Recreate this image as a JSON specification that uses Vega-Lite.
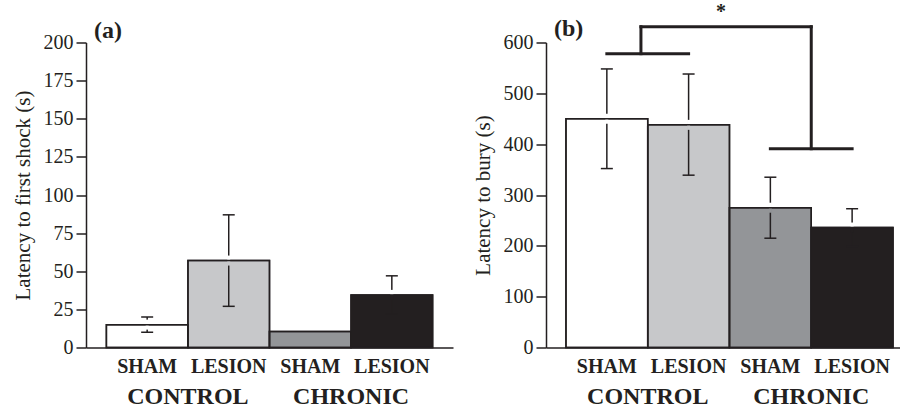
{
  "$schema": "https://vega.github.io/schema/vega-lite/v6.json",
  "background": "white",
  "padding": {"left": 12, "top": 1.5, "right": 0, "bottom": 0},
  "spacing": 19,
  "config": {
    "view": {"stroke": null},
    "font": "Liberation Serif",
    "axis": {"domainColor": "#231f20", "domainWidth": 1.5, "tickColor": "#231f20", "tickWidth": 1.5, "labelColor": "#231f20", "titleColor": "#231f20", "labelFont": "Liberation Serif", "titleFont": "Liberation Serif", "grid": false, "labelOverlap": false}
  },
  "hconcat": [
    {
      "width": 367,
      "height": 305,
      "title": {"text": "(a)", "anchor": "start", "frame": "group", "dx": 8, "fontSize": 24, "fontWeight": "bold", "font": "Liberation Serif", "color": "#231f20", "offset": -10},
      "data": {"values": [
        {"bar": "CONTROL-SHAM", "mean": 15, "lo": 10, "hi": 20},
        {"bar": "CONTROL-LESION", "mean": 57, "lo": 27, "hi": 87},
        {"bar": "CHRONIC-SHAM", "mean": 10.5},
        {"bar": "CHRONIC-LESION", "mean": 34.5, "lo": 22, "hi": 47}
      ]},
      "encoding": {
        "x": {"field": "bar", "type": "nominal",
          "scale": {"domain": ["CONTROL-SHAM", "CONTROL-LESION", "CHRONIC-SHAM", "CHRONIC-LESION"], "paddingInner": 0, "paddingOuter": 0.25},
          "axis": {"title": null, "ticks": false, "tickSize": 0, "labelAngle": 0, "labelFontSize": 20, "labelFontWeight": "bold", "labelPadding": 9, "labelExpr": "split(datum.label, '-')[1]"}}
      },
      "layer": [
        {"mark": {"type": "bar", "stroke": "#231f20", "strokeWidth": 1.5},
          "encoding": {
            "y": {"field": "mean", "type": "quantitative", "scale": {"domain": [0, 200], "nice": false},
              "axis": {"title": "Latency to first shock (s)", "values": [0, 25, 50, 75, 100, 125, 150, 175, 200], "tickCount": 12, "labelOverlap": false, "tickSize": 10, "labelPadding": 3, "labelFontSize": 20, "titleFontSize": 21, "titleFontWeight": "normal", "titlePadding": 10}},
            "fill": {"field": "bar", "type": "nominal", "scale": {"domain": ["CONTROL-SHAM", "CONTROL-LESION", "CHRONIC-SHAM", "CHRONIC-LESION"], "range": ["#ffffff", "#c7c8ca", "#939598", "#231f20"]}, "legend": null}
          }},
        {"transform": [{"filter": "isValid(datum.hi)"}],
          "mark": {"type": "rule", "stroke": "#231f20", "strokeWidth": 1.5},
          "encoding": {"y": {"field": "lo", "type": "quantitative", "axis": {"title": "Latency to first shock (s)", "values": [0, 25, 50, 75, 100, 125, 150, 175, 200], "tickCount": 12, "labelOverlap": false}}, "y2": {"field": "hi"}}},
        {"transform": [{"filter": "isValid(datum.hi)"}],
          "mark": {"type": "tick", "orient": "horizontal", "size": 12, "thickness": 1.5, "color": "#231f20", "opacity": 1},
          "encoding": {"y": {"field": "hi", "type": "quantitative", "axis": {"title": "Latency to first shock (s)", "values": [0, 25, 50, 75, 100, 125, 150, 175, 200], "tickCount": 12, "labelOverlap": false}}}},
        {"transform": [{"filter": "isValid(datum.hi)"}],
          "mark": {"type": "tick", "orient": "horizontal", "size": 12, "thickness": 1.5, "color": "#231f20", "opacity": 1},
          "encoding": {"y": {"field": "lo", "type": "quantitative", "axis": {"title": "Latency to first shock (s)", "values": [0, 25, 50, 75, 100, 125, 150, 175, 200], "tickCount": 12, "labelOverlap": false}}}},
        {"transform": [{"filter": "isValid(datum.hi)"}],
          "mark": {"type": "point", "shape": "M0,-1L0,0", "size": 100, "stroke": "white", "strokeWidth": 3, "filled": false, "opacity": 1},
          "encoding": {"y": {"field": "mean", "type": "quantitative"}}},
        {"transform": [{"filter": "isValid(datum.hi)"}],
          "mark": {"type": "point", "shape": "M0,0L0,1", "size": 100, "strokeWidth": 3, "filled": false, "opacity": 1},
          "encoding": {"y": {"field": "mean", "type": "quantitative"},
            "stroke": {"field": "bar", "type": "nominal", "scale": {"domain": ["CONTROL-SHAM", "CONTROL-LESION", "CHRONIC-SHAM", "CHRONIC-LESION"], "range": ["#ffffff", "#c7c8ca", "#939598", "#231f20"]}, "legend": null}}},
        {"mark": {"type": "bar", "fillOpacity": 0, "stroke": "#231f20", "strokeWidth": 1.5},
          "encoding": {"y": {"field": "mean", "type": "quantitative"}}},
        {"data": {"values": [{"bar": "CONTROL-LESION", "group": "CONTROL"}, {"bar": "CHRONIC-LESION", "group": "CHRONIC"}]},
          "mark": {"type": "text", "fontSize": 24, "fontWeight": "bold", "baseline": "alphabetic", "color": "#231f20", "font": "Liberation Serif"},
          "encoding": {"x": {"field": "bar", "type": "nominal", "bandPosition": 0}, "y": {"datum": -37.3, "type": "quantitative"}, "text": {"field": "group"}}}
      ]
    },
    {
      "width": 355,
      "height": 305,
      "title": {"text": "(b)", "anchor": "start", "frame": "group", "dx": 8, "fontSize": 24, "fontWeight": "bold", "font": "Liberation Serif", "color": "#231f20", "offset": -38.5},
      "data": {"values": [
        {"bar": "CONTROL-SHAM", "mean": 450, "lo": 352, "hi": 548},
        {"bar": "CONTROL-LESION", "mean": 438, "lo": 339, "hi": 538},
        {"bar": "CHRONIC-SHAM", "mean": 275, "lo": 215, "hi": 335},
        {"bar": "CHRONIC-LESION", "mean": 236, "lo": 199, "hi": 273}
      ]},
      "encoding": {
        "x": {"field": "bar", "type": "nominal",
          "scale": {"domain": ["CONTROL-SHAM", "CONTROL-LESION", "CHRONIC-SHAM", "CHRONIC-LESION"], "paddingInner": 0, "paddingOuter": 0.171, "align": 0.714},
          "axis": {"title": null, "ticks": false, "tickSize": 0, "labelAngle": 0, "labelFontSize": 20, "labelFontWeight": "bold", "labelPadding": 9, "labelExpr": "split(datum.label, '-')[1]"}}
      },
      "layer": [
        {"mark": {"type": "bar", "stroke": "#231f20", "strokeWidth": 1.5},
          "encoding": {
            "y": {"field": "mean", "type": "quantitative", "scale": {"domain": [0, 600], "nice": false},
              "axis": {"title": "Latency to bury (s)", "values": [0, 100, 200, 300, 400, 500, 600], "tickCount": 10, "tickSize": 10, "labelPadding": 3, "labelFontSize": 20, "titleFontSize": 21, "titleFontWeight": "normal", "titlePadding": 10}},
            "fill": {"field": "bar", "type": "nominal", "scale": {"domain": ["CONTROL-SHAM", "CONTROL-LESION", "CHRONIC-SHAM", "CHRONIC-LESION"], "range": ["#ffffff", "#c7c8ca", "#939598", "#231f20"]}, "legend": null}
          }},
        {"mark": {"type": "rule", "stroke": "#231f20", "strokeWidth": 1.5},
          "encoding": {"y": {"field": "lo", "type": "quantitative", "axis": {"title": "Latency to bury (s)"}}, "y2": {"field": "hi"}}},
        {"mark": {"type": "tick", "orient": "horizontal", "size": 12, "thickness": 1.5, "color": "#231f20", "opacity": 1},
          "encoding": {"y": {"field": "hi", "type": "quantitative", "axis": {"title": "Latency to bury (s)"}}}},
        {"mark": {"type": "tick", "orient": "horizontal", "size": 12, "thickness": 1.5, "color": "#231f20", "opacity": 1},
          "encoding": {"y": {"field": "lo", "type": "quantitative", "axis": {"title": "Latency to bury (s)"}}}},
        {"mark": {"type": "point", "shape": "M0,-1L0,0", "size": 100, "stroke": "white", "strokeWidth": 3, "filled": false, "opacity": 1},
          "encoding": {"y": {"field": "mean", "type": "quantitative"}}},
        {"mark": {"type": "point", "shape": "M0,0L0,1", "size": 100, "strokeWidth": 3, "filled": false, "opacity": 1},
          "encoding": {"y": {"field": "mean", "type": "quantitative"},
            "stroke": {"field": "bar", "type": "nominal", "scale": {"domain": ["CONTROL-SHAM", "CONTROL-LESION", "CHRONIC-SHAM", "CHRONIC-LESION"], "range": ["#ffffff", "#c7c8ca", "#939598", "#231f20"]}, "legend": null}}},
        {"mark": {"type": "bar", "fillOpacity": 0, "stroke": "#231f20", "strokeWidth": 1.5},
          "encoding": {"y": {"field": "mean", "type": "quantitative"}}},
        {"data": {"values": [{"from": "CONTROL-SHAM", "to": "CONTROL-LESION", "level": 578}, {"from": "CHRONIC-SHAM", "to": "CHRONIC-LESION", "level": 391}]},
          "mark": {"type": "rule", "stroke": "#231f20", "strokeWidth": 3, "strokeCap": "square"},
          "encoding": {"x": {"field": "from", "type": "nominal"}, "x2": {"field": "to"}, "y": {"field": "level", "type": "quantitative", "axis": {"title": "Latency to bury (s)"}}}},
        {"data": {"values": [{"from": "CONTROL-SHAM", "low": 578, "high": 631}]},
          "mark": {"type": "rule", "stroke": "#231f20", "strokeWidth": 3, "strokeCap": "square"},
          "encoding": {"x": {"field": "from", "type": "nominal", "bandPosition": 0.917}, "y": {"field": "low", "type": "quantitative", "axis": {"title": "Latency to bury (s)"}}, "y2": {"field": "high"}}},
        {"data": {"values": [{"from": "CHRONIC-LESION", "low": 391, "high": 631}]},
          "mark": {"type": "rule", "stroke": "#231f20", "strokeWidth": 3, "strokeCap": "square"},
          "encoding": {"x": {"field": "from", "type": "nominal", "bandPosition": 0}, "y": {"field": "low", "type": "quantitative", "axis": {"title": "Latency to bury (s)"}}, "y2": {"field": "high"}}},
        {"data": {"values": [{"from": "CONTROL-SHAM", "to": "CHRONIC-LESION", "level": 631}]},
          "mark": {"type": "rule", "stroke": "#231f20", "strokeWidth": 3, "strokeCap": "square"},
          "encoding": {"x": {"field": "from", "type": "nominal", "bandPosition": 0.917}, "x2": {"field": "to", "bandPosition": 0}, "y": {"field": "level", "type": "quantitative", "axis": {"title": "Latency to bury (s)"}}}},
        {"data": {"values": [{"at": "CONTROL-LESION", "label": "*", "level": 660}]},
          "mark": {"type": "text", "fontSize": 20, "fontWeight": "bold", "baseline": "middle", "color": "#231f20", "font": "Liberation Serif"},
          "encoding": {"x": {"field": "at", "type": "nominal", "bandPosition": 0.896}, "y": {"field": "level", "type": "quantitative", "axis": {"title": "Latency to bury (s)"}}, "text": {"field": "label"}}},
        {"data": {"values": [{"bar": "CONTROL-LESION", "group": "CONTROL"}, {"bar": "CHRONIC-LESION", "group": "CHRONIC"}]},
          "mark": {"type": "text", "fontSize": 24, "fontWeight": "bold", "baseline": "alphabetic", "color": "#231f20", "font": "Liberation Serif"},
          "encoding": {"x": {"field": "bar", "type": "nominal", "bandPosition": 0}, "y": {"datum": -112, "type": "quantitative"}, "text": {"field": "group"}}}
      ]
    }
  ]
}
